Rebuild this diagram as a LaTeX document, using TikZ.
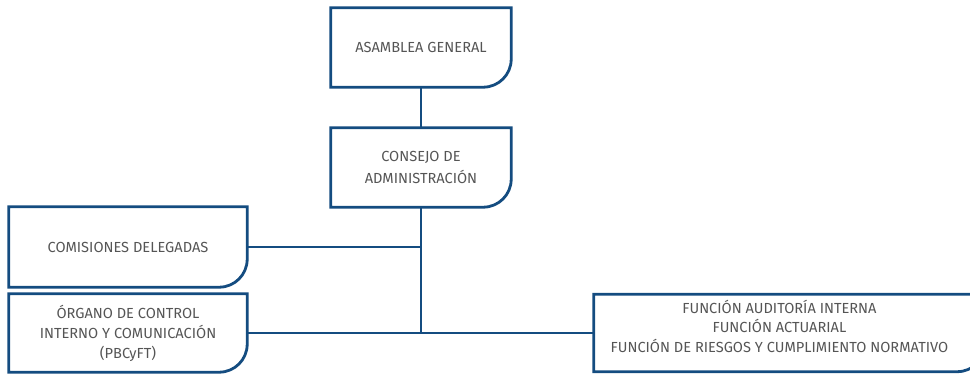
\documentclass[tikz,border=0pt]{standalone}
\usepackage{fontspec}
\setmainfont{Fira Sans}
\definecolor{orgblue}{RGB}{20,76,128}
\definecolor{orgtext}{RGB}{85,85,85}
\begin{document}
\begin{tikzpicture}[x=1pt,y=-1pt,
  orgbox/.style={draw=none, rectangle, inner sep=0pt, align=center,
    text=orgtext, font=\fontsize{14.6}{20}\selectfont},
  orgline/.style={draw=orgblue, line width=2.8pt, line join=miter},
  conn/.style={draw=orgblue, line width=2.8pt}]
\useasboundingbox (0,0) rectangle (970,374);
\newcommand{\orgoutline}[1]{%
  \draw[orgline] (#1.north west) -- (#1.north east)
    -- ([yshift=28pt]#1.south east) arc[start angle=0, end angle=-90, radius=28pt]
    -- (#1.south west) -- cycle;}
\node[orgbox, minimum width=180pt, minimum height=79pt] (ag) at (421,47.5) {ASAMBLEA GENERAL};
\node[orgbox, minimum width=180pt, minimum height=79pt, font=\fontsize{14.6}{22}\selectfont] (cda) at (421,167.5) {CONSEJO DE\\ADMINISTRACIÓN};
\node[orgbox, minimum width=238pt, minimum height=80pt] (com) at (128,247) {COMISIONES DELEGADAS};
\node[orgbox, minimum width=238pt, minimum height=78pt] (org) at (128,333) {ÓRGANO DE CONTROL\\INTERNO Y COMUNICACIÓN\\(PBCyFT)};
\node[orgbox, minimum width=391pt, minimum height=77pt] (fn) at (789.5,333)
  {\hspace*{-20pt}\raisebox{4pt}[\height][\depth]{\begin{tabular}{@{}c@{}}FUNCIÓN AUDITORÍA INTERNA\\[-0.5pt]FUNCIÓN ACTUARIAL\\[-0.5pt]FUNCIÓN DE RIESGOS Y CUMPLIMIENTO NORMATIVO\end{tabular}}};
\orgoutline{ag}
\orgoutline{cda}
\orgoutline{com}
\orgoutline{org}
\orgoutline{fn}
\coordinate (junction) at (cda.south |- org.east);
\draw[conn] (ag.south) -- (cda.north);
\draw[conn] (cda.south) -- (junction);
\draw[conn] (com.east) -- (com.east -| cda.south);
\draw[conn] (org.east) -- (fn.west);
\end{tikzpicture}
\end{document}
